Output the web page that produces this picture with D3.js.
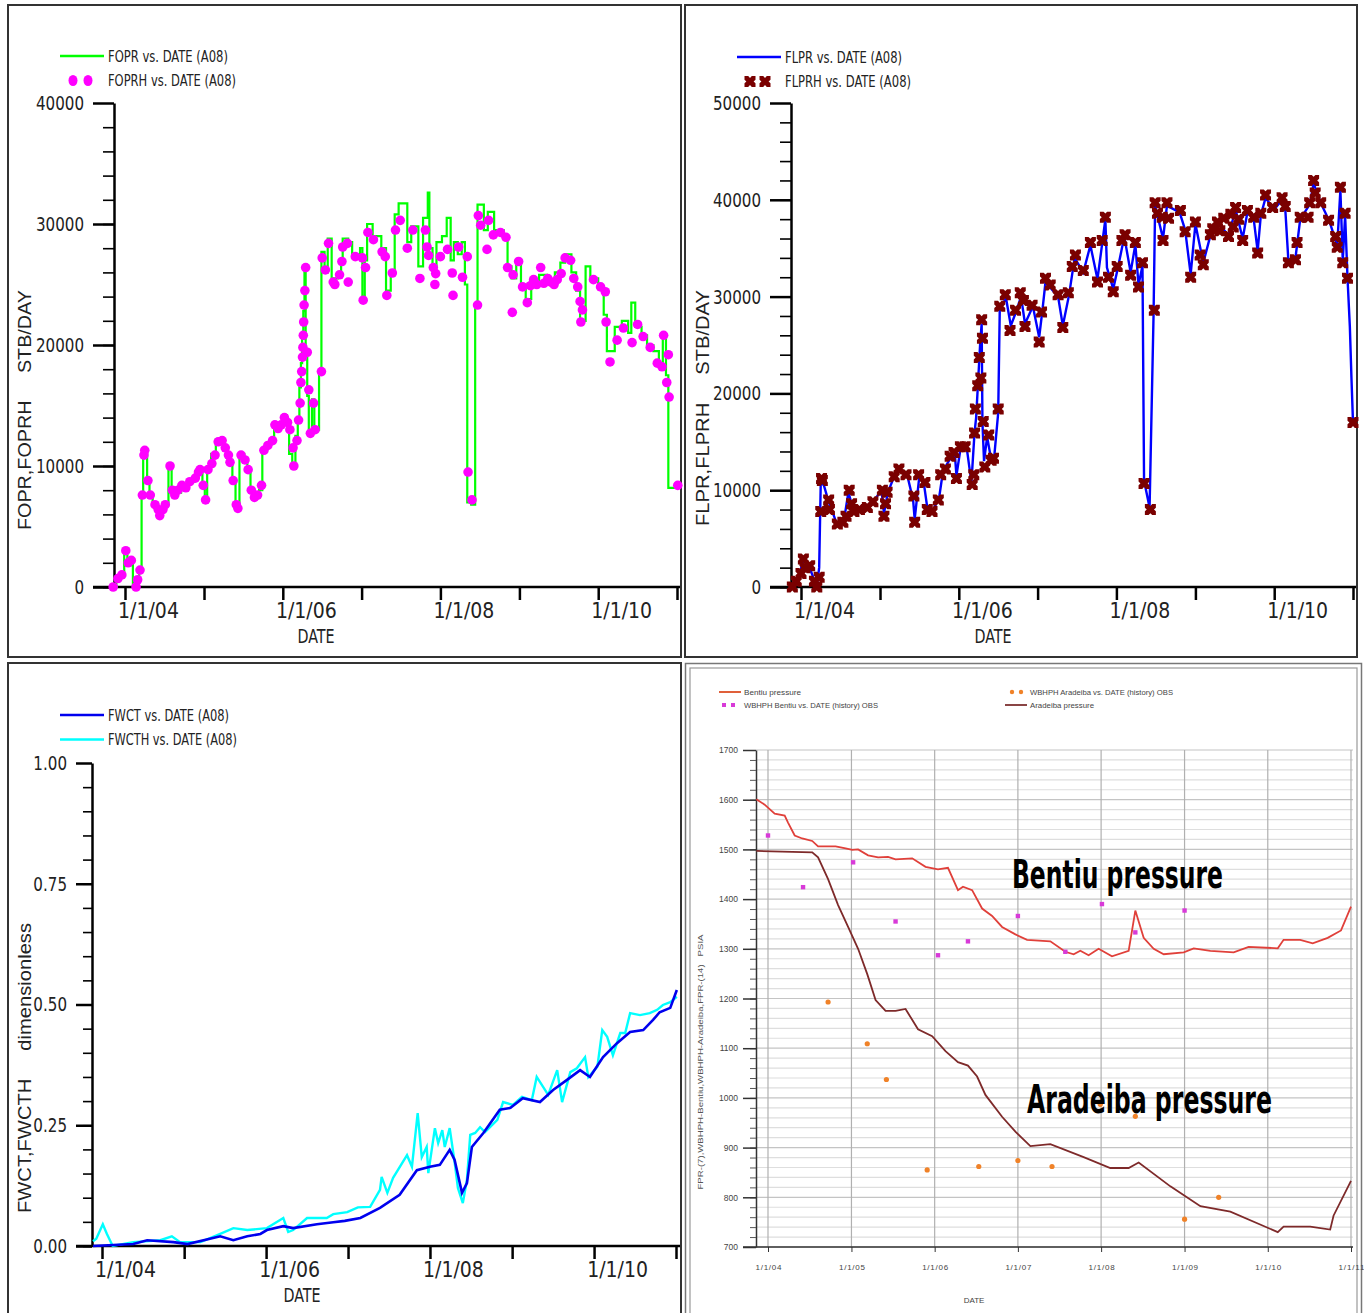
<!DOCTYPE html>
<html>
<head>
<meta charset="utf-8">
<script src="https://cdnjs.cloudflare.com/ajax/libs/d3/7.8.5/d3.min.js"></script>
<style>
body { margin: 0; background: #fff; }
svg { display: block; }
text { font-family: "Liberation Sans Narrow", "Arial Narrow", "DejaVu Sans Condensed", sans-serif; }
</style>
</head>
<body>
<svg id="chart" width="1364" height="1313"></svg>
<script>
// dates are decimal years
var xYears = [2004, 2005, 2006, 2007, 2008, 2009, 2010, 2011];
var xLabels = ["1/1/04", "", "1/1/06", "", "1/1/08", "", "1/1/10", ""];
var xLabelsPressure = ["1/1/04", "1/1/05", "1/1/06", "1/1/07", "1/1/08", "1/1/09", "1/1/10", "1/1/11"];

var rateTicks = [0, 10000, 20000, 30000, 40000];
var liquidTicks = [0, 10000, 20000, 30000, 40000, 50000];
var wctTicks = [0, 0.25, 0.5, 0.75, 1];
var pressureTicks = [700, 800, 900, 1000, 1100, 1200, 1300, 1400, 1500, 1600, 1700];

// FOPR (simulated, step) and FOPRH (history dots)
var fopr = [[2003.85,0],[2003.89,800],[2003.94,1100],[2003.99,3000],[2004.03,2000],[2004.06,1800],[2004.10,0],[2004.15,600],[2004.18,1500],[2004.21,7500],[2004.23,11000],[2004.28,9000],[2004.31,7500],[2004.35,6800],[2004.40,6200],[2004.46,6500],[2004.50,7000],[2004.55,10000],[2004.59,8000],[2004.64,7800],[2004.71,8300],[2004.80,8700],[2004.88,9200],[2004.93,9800],[2004.98,8500],[2005.01,7000],[2005.04,10000],[2005.09,11000],[2005.15,12200],[2005.25,11500],[2005.30,10500],[2005.36,8800],[2005.40,6700],[2005.45,11000],[2005.51,10400],[2005.55,9700],[2005.59,8000],[2005.63,7400],[2005.70,8000],[2005.74,11200],[2005.80,11800],[2005.86,12300],[2005.89,13500],[2005.96,13400],[2006.00,14200],[2006.05,13600],[2006.08,11000],[2006.12,10000],[2006.16,12500],[2006.19,13800],[2006.21,16500],[2006.23,18500],[2006.245,20500],[2006.26,22800],[2006.275,26500],[2006.29,19000],[2006.31,15800],[2006.33,12500],[2006.37,15500],[2006.40,13000],[2006.46,17800],[2006.49,27700],[2006.53,26000],[2006.57,28800],[2006.62,25500],[2006.70,26000],[2006.74,27000],[2006.76,28800],[2006.83,28500],[2006.88,27500],[2006.98,28000],[2007.01,24000],[2007.04,27000],[2007.07,30000],[2007.14,29000],[2007.25,28000],[2007.31,24500],[2007.37,26000],[2007.42,30800],[2007.47,31700],[2007.58,28500],[2007.63,29800],[2007.72,26500],[2007.78,30500],[2007.84,32600],[2007.86,28000],[2007.90,26500],[2007.95,28500],[2008.02,29000],[2008.08,30500],[2008.13,27000],[2008.17,28500],[2008.22,27500],[2008.27,28500],[2008.31,25000],[2008.34,7000],[2008.39,6800],[2008.44,23100],[2008.47,31600],[2008.55,29500],[2008.60,31000],[2008.68,29500],[2008.80,29000],[2008.85,26500],[2008.90,25500],[2008.96,27000],[2009.02,25000],[2009.08,23800],[2009.15,25000],[2009.25,25800],[2009.35,25300],[2009.45,26000],[2009.52,26800],[2009.58,27500],[2009.66,26000],[2009.72,24500],[2009.77,22000],[2009.84,26500],[2009.90,25500],[2010.00,24800],[2010.07,22500],[2010.11,19500],[2010.21,21500],[2010.30,22000],[2010.38,21000],[2010.42,23500],[2010.47,21500],[2010.55,20800],[2010.62,20000],[2010.70,19500],[2010.77,18300],[2010.82,20800],[2010.86,17500],[2010.89,8200],[2011.01,8200]];

var foprh = [[2003.85,0],[2003.91,700],[2003.96,1000],[2004.01,3000],[2004.04,2000],[2004.08,2200],[2004.14,0],[2004.16,600],[2004.19,1400],[2004.22,7600],[2004.24,10900],[2004.25,11300],[2004.29,8800],[2004.32,7600],[2004.38,6800],[2004.42,6400],[2004.44,5900],[2004.48,6400],[2004.51,6800],[2004.57,10000],[2004.60,8000],[2004.63,7600],[2004.67,8000],[2004.72,8400],[2004.77,8200],[2004.82,8700],[2004.89,9000],[2004.93,9500],[2004.95,9700],[2004.99,8400],[2005.02,7200],[2005.05,9700],[2005.10,10200],[2005.14,10900],[2005.18,12000],[2005.23,12100],[2005.27,11500],[2005.31,10900],[2005.33,10300],[2005.37,8800],[2005.41,6800],[2005.43,6500],[2005.47,10900],[2005.52,10500],[2005.56,9700],[2005.60,8000],[2005.64,7400],[2005.68,7600],[2005.73,8400],[2005.76,11300],[2005.81,11700],[2005.87,12100],[2005.90,13400],[2005.94,13100],[2005.98,13400],[2006.02,14000],[2006.06,13600],[2006.09,13000],[2006.13,11500],[2006.14,10000],[2006.18,12100],[2006.20,13800],[2006.22,15200],[2006.23,16900],[2006.24,17800],[2006.25,19000],[2006.255,19800],[2006.26,20800],[2006.265,21900],[2006.27,23300],[2006.28,24500],[2006.29,26400],[2006.31,19400],[2006.33,16300],[2006.35,12700],[2006.39,15200],[2006.41,13000],[2006.49,17800],[2006.50,27200],[2006.54,26200],[2006.58,28400],[2006.64,25200],[2006.66,25000],[2006.72,25800],[2006.75,26900],[2006.76,28100],[2006.82,28400],[2006.83,25200],[2006.92,27300],[2007.01,27200],[2007.02,23700],[2007.05,26400],[2007.08,29300],[2007.15,28700],[2007.26,27700],[2007.30,27300],[2007.32,24100],[2007.39,25950],[2007.43,29500],[2007.49,30300],[2007.58,28000],[2007.65,29500],[2007.74,25500],[2007.81,29500],[2007.83,28100],[2007.85,27400],[2007.91,26400],[2007.93,25000],[2007.94,25900],[2008.00,27300],[2008.09,27900],[2008.15,25950],[2008.16,24100],[2008.23,28100],[2008.28,25600],[2008.34,27300],[2008.35,9500],[2008.40,7200],[2008.47,23300],[2008.48,30700],[2008.51,29900],[2008.59,27900],[2008.61,30300],[2008.67,29100],[2008.76,29300],[2008.83,28900],[2008.85,26400],[2008.91,22700],[2008.92,25800],[2008.99,26900],[2009.04,24800],[2009.10,23500],[2009.14,24900],[2009.18,25400],[2009.22,25000],[2009.27,26400],[2009.31,25100],[2009.36,25500],[2009.40,25200],[2009.44,25000],[2009.48,25400],[2009.53,25900],[2009.58,27200],[2009.65,27000],[2009.69,25500],[2009.74,24800],[2009.77,23600],[2009.78,21900],[2009.80,22900],[2009.94,25400],[2010.03,24800],[2010.09,24400],[2010.10,21900],[2010.15,18600],[2010.24,20400],[2010.32,21400],[2010.43,20200],[2010.50,21700],[2010.57,20700],[2010.66,19800],[2010.75,18500],[2010.81,18200],[2010.83,20800],[2010.87,16900],[2010.89,19200],[2010.90,15700],[2011.01,8400]];

// FLPR (simulated line) and FLPRH (history markers)
var flpr = [[2003.89,0],[2003.97,1000],[2004.03,2800],[2004.10,2200],[2004.20,0],[2004.23,2000],[2004.25,10800],[2004.29,10500],[2004.35,8800],[2004.46,6400],[2004.55,7200],[2004.60,9800],[2004.66,8000],[2004.80,8200],[2004.92,8900],[2005.02,10000],[2005.05,7600],[2005.10,9800],[2005.20,11800],[2005.25,12000],[2005.35,11400],[2005.42,9000],[2005.44,7000],[2005.50,11500],[2005.56,10500],[2005.60,8200],[2005.67,7900],[2005.75,9200],[2005.80,12000],[2005.90,13400],[2005.95,13700],[2005.97,11500],[2006.02,14200],[2006.10,14400],[2006.16,10800],[2006.20,16000],[2006.22,17500],[2006.25,22000],[2006.27,25000],[2006.29,27200],[2006.30,17000],[2006.32,13000],[2006.36,15500],[2006.41,13200],[2006.45,13500],[2006.50,18000],[2006.52,28800],[2006.60,29800],[2006.66,27000],[2006.73,28500],[2006.79,30000],[2006.84,27200],[2006.94,29000],[2007.02,25800],[2007.06,28500],[2007.10,31500],[2007.26,30000],[2007.32,27000],[2007.40,30200],[2007.47,34000],[2007.58,32500],[2007.67,35300],[2007.76,31800],[2007.82,35500],[2007.86,38000],[2007.88,33000],[2007.96,30800],[2008.02,33000],[2008.10,36200],[2008.18,32500],[2008.24,35400],[2008.28,31200],[2008.33,33200],[2008.35,11000],[2008.42,8200],[2008.47,28000],[2008.49,39400],[2008.59,36000],[2008.64,39400],[2008.80,38700],[2008.87,36900],[2008.94,32300],[2009.00,37500],[2009.10,33500],[2009.19,36300],[2009.30,37500],[2009.42,36300],[2009.51,39000],[2009.60,36000],[2009.66,38700],[2009.74,38000],[2009.79,34700],[2009.83,38400],[2009.89,40200],[2010.00,39000],[2010.10,40000],[2010.14,39100],[2010.18,33700],[2010.27,34000],[2010.33,38000],[2010.45,39500],[2010.50,41700],[2010.60,39500],[2010.70,37800],[2010.80,35300],[2010.84,41000],[2010.87,33700],[2010.90,38400],[2010.93,32000],[2010.96,26900],[2010.98,21700],[2011.00,17000]];

var flprh = [[2003.89,0],[2003.94,600],[2004.00,1400],[2004.03,2900],[2004.05,2000],[2004.11,2200],[2004.17,600],[2004.20,0],[2004.23,1000],[2004.25,7800],[2004.26,11200],[2004.27,11000],[2004.35,9000],[2004.36,8000],[2004.46,6500],[2004.53,6700],[2004.57,7300],[2004.61,10000],[2004.64,8600],[2004.67,7800],[2004.74,8000],[2004.84,8200],[2004.91,8800],[2005.03,10000],[2005.05,7300],[2005.07,8600],[2005.09,9800],[2005.18,11400],[2005.24,12200],[2005.33,11600],[2005.43,9400],[2005.44,6700],[2005.49,11600],[2005.57,10800],[2005.60,8000],[2005.66,7800],[2005.74,9000],[2005.77,11600],[2005.83,12200],[2005.89,13500],[2005.94,13900],[2005.97,11200],[2006.02,14500],[2006.08,14500],[2006.17,10600],[2006.19,11600],[2006.20,15900],[2006.21,18400],[2006.24,20800],[2006.26,23700],[2006.28,21600],[2006.29,27600],[2006.30,25700],[2006.31,17100],[2006.33,12400],[2006.38,15700],[2006.41,13100],[2006.44,13300],[2006.50,18400],[2006.52,29000],[2006.59,30200],[2006.65,26500],[2006.72,28600],[2006.78,30400],[2006.82,29600],[2006.84,26900],[2006.93,29100],[2007.02,25300],[2007.05,28400],[2007.10,31900],[2007.16,31200],[2007.26,30200],[2007.32,26800],[2007.39,30400],[2007.44,33100],[2007.48,34300],[2007.58,32700],[2007.67,35600],[2007.76,31500],[2007.82,35800],[2007.86,38200],[2007.90,32000],[2007.96,30500],[2008.01,33100],[2008.07,35800],[2008.11,36400],[2008.18,32200],[2008.24,35600],[2008.28,31000],[2008.33,33500],[2008.35,10700],[2008.43,8000],[2008.48,28600],[2008.49,39700],[2008.52,38600],[2008.58,38200],[2008.59,35800],[2008.64,39700],[2008.66,38100],[2008.81,38900],[2008.87,36700],[2008.94,32000],[2009.00,37700],[2009.06,34300],[2009.10,33300],[2009.19,36400],[2009.22,37000],[2009.28,37700],[2009.31,36800],[2009.36,38100],[2009.42,36200],[2009.45,38500],[2009.48,37200],[2009.51,39200],[2009.55,38000],[2009.60,35800],[2009.66,38900],[2009.74,38200],[2009.79,34500],[2009.83,38600],[2009.89,40500],[2009.98,39200],[2010.10,40200],[2010.14,39300],[2010.18,33500],[2010.27,33800],[2010.29,35600],[2010.33,38200],[2010.43,38200],[2010.45,39700],[2010.50,42000],[2010.52,40700],[2010.59,39700],[2010.69,37900],[2010.78,36200],[2010.80,35100],[2010.84,41300],[2010.87,33500],[2010.90,38600],[2010.93,31900],[2011.00,17000]];

// FWCT (simulated) and FWCTH (history)
var fwct = [[2003.89,0],[2004.38,0.004],[2004.55,0.012],[2004.87,0.008],[2005.04,0.004],[2005.44,0.02],[2005.60,0.012],[2005.77,0.02],[2005.93,0.025],[2006.01,0.033],[2006.21,0.041],[2006.33,0.037],[2006.62,0.045],[2006.82,0.049],[2006.96,0.052],[2007.15,0.058],[2007.39,0.079],[2007.63,0.106],[2007.84,0.157],[2008.00,0.164],[2008.12,0.168],[2008.24,0.199],[2008.30,0.178],[2008.39,0.11],[2008.45,0.13],[2008.51,0.205],[2008.65,0.234],[2008.85,0.282],[2008.98,0.286],[2009.13,0.306],[2009.34,0.298],[2009.50,0.323],[2009.67,0.344],[2009.83,0.364],[2009.95,0.35],[2010.11,0.391],[2010.28,0.42],[2010.44,0.443],[2010.60,0.447],[2010.72,0.468],[2010.80,0.484],[2010.93,0.493],[2011.01,0.53]];

var fwcth = [[2003.89,0.01],[2003.93,0.015],[2004.01,0.045],[2004.06,0.025],[2004.13,0],[2004.38,0.008],[2004.71,0.012],[2004.85,0.02],[2004.95,0.008],[2005.20,0.008],[2005.44,0.025],[2005.60,0.037],[2005.77,0.033],[2006.01,0.037],[2006.21,0.058],[2006.27,0.029],[2006.33,0.033],[2006.50,0.058],[2006.74,0.058],[2006.82,0.066],[2006.99,0.07],[2007.12,0.08],[2007.27,0.081],[2007.39,0.116],[2007.41,0.143],[2007.48,0.11],[2007.55,0.141],[2007.72,0.188],[2007.78,0.164],[2007.85,0.275],[2007.90,0.184],[2007.96,0.205],[2007.98,0.151],[2008.06,0.244],[2008.10,0.213],[2008.15,0.24],[2008.18,0.205],[2008.24,0.244],[2008.30,0.174],[2008.34,0.12],[2008.40,0.089],[2008.45,0.137],[2008.49,0.23],[2008.55,0.234],[2008.61,0.246],[2008.67,0.236],[2008.82,0.261],[2008.89,0.298],[2009.01,0.292],[2009.12,0.309],[2009.24,0.302],[2009.30,0.35],[2009.38,0.329],[2009.44,0.313],[2009.55,0.364],[2009.61,0.298],[2009.71,0.36],[2009.79,0.368],[2009.89,0.391],[2009.93,0.35],[2010.04,0.371],[2010.10,0.447],[2010.16,0.433],[2010.23,0.395],[2010.32,0.441],[2010.38,0.441],[2010.44,0.482],[2010.56,0.478],[2010.68,0.482],[2010.77,0.489],[2010.84,0.499],[2010.93,0.505],[2011.01,0.516]];

// reservoir pressures (psia)
var bentiu = [[2003.86,1601],[2003.96,1590],[2004.08,1572],[2004.20,1568],[2004.24,1554],[2004.32,1528],[2004.41,1522],[2004.53,1517],[2004.60,1506],[2004.81,1506],[2004.93,1502],[2005.01,1499],[2005.08,1500],[2005.20,1488],[2005.32,1484],[2005.44,1485],[2005.53,1480],[2005.73,1482],[2005.89,1465],[2006.04,1460],[2006.16,1463],[2006.28,1418],[2006.34,1425],[2006.45,1418],[2006.57,1381],[2006.69,1366],[2006.81,1344],[2006.97,1329],[2007.11,1318],[2007.39,1315],[2007.57,1294],[2007.67,1289],[2007.75,1296],[2007.85,1287],[2007.97,1300],[2008.13,1285],[2008.33,1296],[2008.41,1377],[2008.51,1322],[2008.63,1300],[2008.75,1289],[2008.99,1293],[2009.11,1301],[2009.31,1296],[2009.59,1293],[2009.77,1304],[2010.12,1301],[2010.19,1318],[2010.39,1318],[2010.54,1311],[2010.72,1322],[2010.88,1337],[2011.00,1385]];

var aradeiba = [[2003.86,1497],[2004.53,1494],[2004.60,1484],[2004.72,1440],[2004.84,1388],[2004.96,1344],[2005.08,1300],[2005.19,1249],[2005.29,1197],[2005.41,1175],[2005.53,1175],[2005.65,1179],[2005.80,1138],[2005.97,1124],[2006.13,1094],[2006.28,1072],[2006.40,1065],[2006.51,1043],[2006.61,1006],[2006.81,962],[2006.97,932],[2007.15,903],[2007.39,907],[2007.79,881],[2008.11,859],[2008.33,859],[2008.45,870],[2008.83,822],[2009.19,782],[2009.55,771],[2010.12,730],[2010.19,741],[2010.51,741],[2010.75,735],[2010.79,763],[2011.00,833]];

var bentiuObs = [[2004.00,1528],[2004.42,1424],[2005.02,1474],[2005.53,1355],[2006.04,1287],[2006.40,1315],[2007.00,1366],[2007.57,1294],[2008.01,1390],[2008.41,1333],[2009.00,1377]];
var aradeibaObs = [[2004.72,1193],[2005.19,1109],[2005.42,1037],[2005.91,855],[2006.53,862],[2007.00,874],[2007.41,862],[2007.99,987],[2008.41,963],[2009.00,756],[2009.41,800]];

var svg = d3.select("#chart");

function yd(v) {
	var yr = Math.floor(v);
	var a = new Date(yr, 0, 1), b = new Date(yr + 1, 0, 1);
	return new Date(+a + (v - yr) * (b - a));
}

// notched square used for FLPRH
var notched = "M-5.5,-5.5L-1.8,-5.5L0,-3.6L1.8,-5.5L5.5,-5.5L5.5,-1.8L3.6,0L5.5,1.8L5.5,5.5L1.8,5.5L0,3.6L-1.8,5.5L-5.5,5.5L-5.5,1.8L-3.6,0L-5.5,-1.8Z";

function squeeze(sel, k) {
	sel.each(function () {
		var w = this.getComputedTextLength();
		d3.select(this).attr("textLength", w * k).attr("lengthAdjust", "spacingAndGlyphs");
	});
}

function classicPanel(o) {
	var g = svg.append("g");
	g.append("rect")
		.attr("x", o.box[0]).attr("y", o.box[1])
		.attr("width", o.box[2]).attr("height", o.box[3])
		.attr("fill", "none").attr("stroke", "#333").attr("stroke-width", 2);
	var x = d3.scaleTime()
		.domain([yd(2004), yd(2011)])
		.range([o.x04, o.x11]);
	var y = d3.scaleLinear()
		.domain([o.yTicks[0], o.yTicks[o.yTicks.length - 1]])
		.range([o.yBase, o.yTop]);

	// minor y ticks
	var minor = g.append("g")
		.attr("transform", "translate(" + o.axisX + ",0)")
		.call(d3.axisLeft(y).tickValues(d3.range(o.yTicks[0], o.yTicks[o.yTicks.length - 1], o.minorStep)).tickSize(o.minorLen).tickFormat("").tickSizeOuter(0));
	minor.selectAll("line").attr("stroke", "#000").attr("stroke-width", 1.6);
	minor.select(".domain").attr("stroke", "#000").attr("stroke-width", 2.5);
	var major = g.append("g")
		.attr("transform", "translate(" + o.axisX + ",0)")
		.call(d3.axisLeft(y).tickValues(o.yTicks).tickSize(o.majorLen).tickPadding(9).tickFormat(o.fmt));
	major.select(".domain").remove();
	major.selectAll("line").attr("stroke", "#000").attr("stroke-width", 2.5);
	major.selectAll("text").style("font-size", "20px").attr("fill", "#222").call(squeeze, 0.84);

	var xa = g.append("g")
		.attr("transform", "translate(0," + o.yBase + ")")
		.call(d3.axisBottom(x).tickValues(xYears.map(yd)).tickSize(13).tickFormat(function (d, i) {
			return xLabels[i];
		}));
	xa.select(".domain").remove();
	xa.selectAll("line").attr("stroke", "#000").attr("stroke-width", 2.5);
	xa.selectAll("text")
		.attr("x", 23).attr("y", 24).attr("dy", "0.35em")
		.style("font-size", "21px").attr("fill", "#222");
	g.append("line")
		.attr("x1", o.axisX - o.majorLen).attr("x2", o.xEnd)
		.attr("y1", o.yBase).attr("y2", o.yBase)
		.attr("stroke", "#000").attr("stroke-width", 2.5);

	g.append("text")
		.attr("x", o.dateX).attr("y", o.yBase + 56)
		.attr("text-anchor", "middle")
		.attr("textLength", 37).attr("lengthAdjust", "spacingAndGlyphs")
		.style("font-size", "20px").attr("fill", "#222")
		.text("DATE");
	g.append("text")
		.attr("transform", "translate(" + o.titleX + "," + o.titleY + ") rotate(-90)")
		.attr("text-anchor", "middle")
		.attr("textLength", o.titleLen).attr("lengthAdjust", "spacingAndGlyphs")
		.style("font-family", "'Liberation Sans', Arial, sans-serif")
		.style("font-size", "18px").style("white-space", "pre").attr("fill", "#222")
		.text(o.title);

	// legend
	o.legend.forEach(function (l, i) {
		var ly = o.legendY + i * 24.5;
		if (l.kind == "line") {
			g.append("line")
				.attr("x1", o.legendX - 48).attr("x2", o.legendX - 4)
				.attr("y1", ly).attr("y2", ly)
				.attr("stroke", l.color).attr("stroke-width", 2.5);
		} else if (l.kind == "dot") {
			[-35, -20].forEach(function (dx) {
				g.append("ellipse")
					.attr("cx", o.legendX + dx).attr("cy", ly)
					.attr("rx", 4.5).attr("ry", 5.5).attr("fill", l.color);
			});
		} else {
			[-35, -20].forEach(function (dx) {
				g.append("path")
					.attr("transform", "translate(" + (o.legendX + dx) + "," + ly + ")")
					.attr("d", notched).attr("fill", l.color);
			});
		}
		g.append("text")
			.attr("x", o.legendX).attr("y", ly + 5.5)
			.attr("textLength", l.len).attr("lengthAdjust", "spacingAndGlyphs")
			.style("font-size", "15px").attr("fill", "#222")
			.text(l.label);
	});
	return { g: g, x: x, y: y };
}

// ---- top left: oil rate
var p1 = classicPanel({
	box: [8, 5, 673, 652],
	x04: 125, x11: 677, xEnd: 680,
	yBase: 587, yTop: 103, axisX: 114,
	yTicks: rateTicks, minorStep: 2000, majorLen: 21, minorLen: 11,
	fmt: d3.format("d"),
	dateX: 316, titleX: 31, titleY: 410, titleLen: 240,
	title: "FOPR,FOPRH     STB/DAY",
	legendX: 108, legendY: 56,
	legend: [
		{ kind: "line", color: "#00ff00", label: "FOPR vs. DATE (A08)", len: 120 },
		{ kind: "dot", color: "#ff00ff", label: "FOPRH vs. DATE (A08)", len: 128 }
	]
});
p1.g.append("path")
	.datum(fopr)
	.attr("d", d3.line().curve(d3.curveStepAfter)
		.x(function (d) { return p1.x(yd(d[0])); })
		.y(function (d) { return p1.y(d[1]); }))
	.attr("fill", "none").attr("stroke", "#00ff00").attr("stroke-width", 2.2);
p1.g.selectAll("circle.h")
	.data(foprh)
	.enter()
	.append("circle")
	.attr("cx", function (d) { return p1.x(yd(d[0])); })
	.attr("cy", function (d) { return p1.y(d[1]); })
	.attr("r", 4.8)
	.attr("fill", "#ff00ff");

// ---- top right: liquid rate
var p2 = classicPanel({
	box: [685, 5, 672, 652],
	x04: 801, x11: 1353, xEnd: 1356,
	yBase: 587, yTop: 103, axisX: 791,
	yTicks: liquidTicks, minorStep: 2000, majorLen: 21, minorLen: 11,
	fmt: d3.format("d"),
	dateX: 993, titleX: 709, titleY: 408, titleLen: 236,
	title: "FLPR,FLPRH     STB/DAY",
	legendX: 785, legendY: 57,
	legend: [
		{ kind: "line", color: "#0000ff", label: "FLPR vs. DATE (A08)", len: 117 },
		{ kind: "bow", color: "#7a0000", label: "FLPRH vs. DATE (A08)", len: 126 }
	]
});
p2.g.append("path")
	.datum(flpr)
	.attr("d", d3.line()
		.x(function (d) { return p2.x(yd(d[0])); })
		.y(function (d) { return p2.y(d[1]); }))
	.attr("fill", "none").attr("stroke", "#0000ff").attr("stroke-width", 2.4);
p2.g.selectAll("path.h")
	.data(flprh)
	.enter()
	.append("path")
	.attr("transform", function (d) {
		return "translate(" + p2.x(yd(d[0])) + "," + p2.y(d[1]) + ")";
	})
	.attr("d", notched)
	.attr("fill", "#7a0000");

// ---- bottom left: water cut
var p3 = classicPanel({
	box: [8, 663, 673, 660],
	x04: 102, x11: 676, xEnd: 680,
	yBase: 1246, yTop: 763, axisX: 92,
	yTicks: wctTicks, minorStep: 0.05, majorLen: 16, minorLen: 9,
	fmt: d3.format(".2f"),
	dateX: 302, titleX: 31, titleY: 1068, titleLen: 290,
	title: "FWCT,FWCTH     dimensionless",
	legendX: 108, legendY: 715,
	legend: [
		{ kind: "line", color: "#0000ee", label: "FWCT vs. DATE (A08)", len: 121 },
		{ kind: "line", color: "#00ffff", label: "FWCTH vs. DATE (A08)", len: 129 }
	]
});
p3.g.append("path")
	.datum(fwcth)
	.attr("d", d3.line()
		.x(function (d) { return p3.x(yd(d[0])); })
		.y(function (d) { return p3.y(d[1]); }))
	.attr("fill", "none").attr("stroke", "#00ffff").attr("stroke-width", 2.4);
p3.g.append("path")
	.datum(fwct)
	.attr("d", d3.line()
		.x(function (d) { return p3.x(yd(d[0])); })
		.y(function (d) { return p3.y(d[1]); }))
	.attr("fill", "none").attr("stroke", "#0000ee").attr("stroke-width", 2.6);

// ---- bottom right: pressure
var g4 = svg.append("g");
g4.append("rect").attr("x", 685.5).attr("y", 663.5).attr("width", 676).attr("height", 660)
	.attr("fill", "none").attr("stroke", "#777").attr("stroke-width", 1.5);
g4.append("rect").attr("x", 690).attr("y", 668).attr("width", 667).attr("height", 650)
	.attr("fill", "none").attr("stroke", "#999").attr("stroke-width", 1.2);

var x4 = d3.scaleTime().domain([yd(2004), yd(2011)]).range([768, 1351]);
var y4 = d3.scaleLinear().domain([700, 1700]).range([1247, 750]);
var left4 = 756, right4 = 1353;

g4.selectAll("line.hg")
	.data(d3.range(700, 1701, 20))
	.enter()
	.append("line")
	.attr("x1", left4).attr("x2", right4)
	.attr("y1", function (d) { return y4(d); })
	.attr("y2", function (d) { return y4(d); })
	.attr("stroke", function (d) { return d % 100 == 0 ? "#c4c4c4" : "#dedede"; })
	.attr("stroke-width", 1.2);
g4.selectAll("line.vg")
	.data(xYears)
	.enter()
	.append("line")
	.attr("x1", function (d) { return x4(yd(d)); })
	.attr("x2", function (d) { return x4(yd(d)); })
	.attr("y1", 750).attr("y2", 1247)
	.attr("stroke", "#b0b0b0").attr("stroke-width", 1.2);

var ya4m = g4.append("g").attr("transform", "translate(" + left4 + ",0)")
	.call(d3.axisLeft(y4).tickValues(d3.range(700, 1700, 20)).tickSize(6).tickFormat("").tickSizeOuter(0));
ya4m.selectAll("line").attr("stroke", "#555");
ya4m.select(".domain").attr("stroke", "#333").attr("stroke-width", 1.5);
var ya4 = g4.append("g").attr("transform", "translate(" + left4 + ",0)")
	.call(d3.axisLeft(y4).tickValues(pressureTicks).tickSize(13).tickPadding(5).tickFormat(d3.format("d")));
ya4.select(".domain").remove();
ya4.selectAll("line").attr("stroke", "#333").attr("stroke-width", 1.5);
ya4.selectAll("text").style("font-family", "'Liberation Sans', Arial, sans-serif").style("font-size", "8.5px").attr("fill", "#444");

var xa4 = g4.append("g").attr("transform", "translate(0,1247)")
	.call(d3.axisBottom(x4).tickValues(xYears.map(yd)).tickSize(5).tickPadding(12).tickFormat(function (d, i) {
		return xLabelsPressure[i];
	}));
xa4.select(".domain").remove();
xa4.selectAll("line").attr("stroke", "#333");
xa4.selectAll("text").style("font-family", "'Liberation Sans', Arial, sans-serif").style("font-size", "8px").attr("fill", "#444")
	.attr("textLength", 26).attr("lengthAdjust", "spacing");
g4.append("line").attr("x1", left4 - 13).attr("x2", right4).attr("y1", 1247).attr("y2", 1247)
	.attr("stroke", "#333").attr("stroke-width", 1.5);

g4.append("text").attr("x", 974).attr("y", 1303).attr("text-anchor", "middle")
	.style("font-family", "'Liberation Sans', Arial, sans-serif").style("font-size", "8px").attr("fill", "#444")
	.text("DATE");
g4.append("text")
	.attr("transform", "translate(703,1062) rotate(-90)")
	.attr("text-anchor", "middle")
	.attr("textLength", 255).attr("lengthAdjust", "spacingAndGlyphs")
	.style("font-family", "'Liberation Sans', Arial, sans-serif").style("font-size", "7.5px")
	.style("white-space", "pre").attr("fill", "#555")
	.text("FPR-(7),WBHPH-Bentiu,WBHPH-Aradeiba,FPR-(14)   PSIA");

var line4 = d3.line()
	.x(function (d) { return x4(yd(d[0])); })
	.y(function (d) { return y4(d[1]); });
g4.append("path").datum(bentiu).attr("d", line4)
	.attr("fill", "none").attr("stroke", "#e0403a").attr("stroke-width", 1.8);
g4.append("path").datum(aradeiba).attr("d", line4)
	.attr("fill", "none").attr("stroke", "#7e2a2a").attr("stroke-width", 1.8);
g4.selectAll("rect.bo")
	.data(bentiuObs)
	.enter()
	.append("rect")
	.attr("x", function (d) { return x4(yd(d[0])) - 2.2; })
	.attr("y", function (d) { return y4(d[1]) - 2.2; })
	.attr("width", 4.4).attr("height", 4.4)
	.attr("fill", "#d83ad8");
g4.selectAll("circle.ao")
	.data(aradeibaObs)
	.enter()
	.append("circle")
	.attr("cx", function (d) { return x4(yd(d[0])); })
	.attr("cy", function (d) { return y4(d[1]); })
	.attr("r", 2.6)
	.attr("fill", "#f08228");

// legend of the pressure plot
var lg = [
	{ x: 744, y: 692, kind: "line", color: "#e0603a", label: "Bentiu pressure", len: 57 },
	{ x: 744, y: 705, kind: "sq", color: "#d83ad8", label: "WBHPH Bentiu vs. DATE (history) OBS", len: 134 },
	{ x: 1030, y: 692, kind: "dot", color: "#f08228", label: "WBHPH Aradeiba vs. DATE (history) OBS", len: 143 },
	{ x: 1030, y: 705, kind: "line", color: "#8a4545", label: "Aradeiba pressure", len: 64 }
];
lg.forEach(function (l) {
	if (l.kind == "line") {
		g4.append("line").attr("x1", l.x - 25).attr("x2", l.x - 3).attr("y1", l.y).attr("y2", l.y)
			.attr("stroke", l.color).attr("stroke-width", 2);
	} else if (l.kind == "sq") {
		[-20, -11].forEach(function (dx) {
			g4.append("rect").attr("x", l.x + dx - 2).attr("y", l.y - 2).attr("width", 4).attr("height", 4).attr("fill", l.color);
		});
	} else {
		[-18, -9].forEach(function (dx) {
			g4.append("circle").attr("cx", l.x + dx).attr("cy", l.y).attr("r", 2.2).attr("fill", l.color);
		});
	}
	g4.append("text").attr("x", l.x).attr("y", l.y + 2.8)
		.attr("textLength", l.len).attr("lengthAdjust", "spacingAndGlyphs")
		.style("font-family", "'Liberation Sans', Arial, sans-serif").style("font-size", "8px").attr("fill", "#444")
		.text(l.label);
});

// big annotations: smaller font stretched vertically to the tall narrow look
var notes = [
	{ x: 1012, y: 888, label: "Bentiu pressure", len: 211 },
	{ x: 1027, y: 1113, label: "Aradeiba pressure", len: 245 }
];
notes.forEach(function (n) {
	g4.append("text")
		.attr("transform", "translate(" + n.x + "," + n.y + ") scale(1,1.5)")
		.attr("textLength", n.len).attr("lengthAdjust", "spacingAndGlyphs")
		.style("font-size", "26px").style("font-weight", "bold").attr("fill", "#000")
		.text(n.label);
});
</script>
</body>
</html>
